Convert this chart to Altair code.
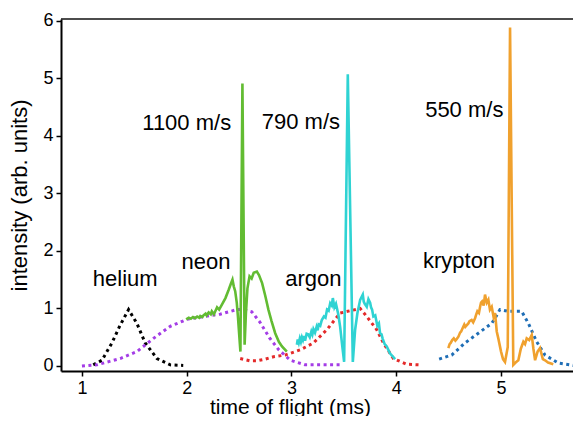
import altair as alt
import pandas as pd

# ---------------- data ----------------
he_t = [1.108, 1.191, 1.286, 1.365, 1.445, 1.525, 1.604, 1.716, 1.843, 1.967]
he_v = [0.02, 0.10, 0.40, 0.71, 0.98, 0.74, 0.40, 0.13, 0.02, 0.01]

ne_fit_t = [1.0, 1.143, 1.365, 1.525, 1.683, 1.843, 2.002, 2.160, 2.319, 2.479, 2.542,
            2.622, 2.70, 2.79, 2.88, 2.99, 3.13, 3.30, 3.481]
ne_fit_v = [0.0, 0.02, 0.13, 0.25, 0.48, 0.69, 0.81, 0.86, 0.90, 0.98, 0.98,
            0.94, 0.76, 0.49, 0.28, 0.10, 0.02, 0.02, 0.02]

ne_t = [1.995, 2.02, 2.04, 2.06, 2.08, 2.10, 2.12, 2.13, 2.15, 2.16, 2.18, 2.19, 2.21,
        2.23, 2.24, 2.26, 2.29, 2.31, 2.34,
        2.37, 2.40, 2.42, 2.437, 2.45, 2.463, 2.478, 2.489, 2.505, 2.513, 2.532, 2.553,
        2.565, 2.58, 2.60, 2.62, 2.64, 2.67, 2.69, 2.72, 2.75, 2.78, 2.81, 2.845, 2.88,
        2.91, 2.956]
ne_v = [0.81, 0.84, 0.82, 0.85, 0.83, 0.86, 0.84, 0.87, 0.85, 0.88, 0.91, 0.88, 0.93,
        0.90, 0.95, 0.90, 1.02, 0.98, 1.08,
        1.18, 1.32, 1.42, 1.50, 1.38, 1.30, 1.10, 0.86, 0.45, 0.25, 4.91, 0.37,
        0.90, 1.35, 1.56, 1.52, 1.62, 1.64, 1.58, 1.44, 1.22, 0.98, 0.78, 0.57, 0.42,
        0.34, 0.25]

ar_fit_t = [2.511, 2.60, 2.67, 2.75, 2.828, 2.94, 3.083, 3.21, 3.338, 3.465, 3.56,
            3.656, 3.719, 3.815, 3.878, 3.973, 4.101, 4.228]
ar_fit_v = [0.13, 0.09, 0.09, 0.12, 0.16, 0.19, 0.28, 0.40, 0.63, 0.92, 0.96,
            1.00, 0.86, 0.63, 0.40, 0.13, 0.03, 0.02]

ar_t = [3.052, 3.06, 3.07, 3.08, 3.09, 3.10, 3.11, 3.12, 3.13, 3.145, 3.16, 3.175, 3.19,
        3.20, 3.21, 3.225, 3.24, 3.25, 3.26, 3.275, 3.29, 3.31, 3.325, 3.34,
        3.355, 3.37, 3.385, 3.395, 3.41, 3.425, 3.448, 3.465, 3.485, 3.503, 3.538, 3.586,
        3.608, 3.63, 3.656, 3.681, 3.69, 3.70, 3.719, 3.735, 3.751, 3.76, 3.77, 3.782,
        3.80, 3.82, 3.835, 3.846, 3.86, 3.87, 3.89, 3.91, 3.925, 3.94, 3.96, 3.99]
ar_v = [0.37, 0.46, 0.40, 0.48, 0.42, 0.50, 0.45, 0.52, 0.44, 0.56, 0.55, 0.50, 0.60,
        0.55, 0.64, 0.58, 0.68, 0.62, 0.72, 0.70, 0.80, 0.86, 0.84, 0.98,
        0.96, 1.09, 1.05, 1.18, 1.02, 1.08, 0.89, 0.68, 0.35, 0.07, 5.07, 0.07,
        0.63, 0.92, 1.15, 1.24, 1.12, 1.08, 1.03, 1.16, 1.10, 1.02, 0.98, 0.86,
        0.88, 0.70, 0.74, 0.57, 0.55, 0.48, 0.38, 0.34, 0.28, 0.22, 0.18, 0.12]

kr_fit_t = [4.41, 4.53, 4.657, 4.784, 4.912, 4.944, 4.99, 5.071, 5.198, 5.262, 5.342,
            5.421, 5.548, 5.691]
kr_fit_v = [0.12, 0.19, 0.40, 0.57, 0.74, 0.83, 0.98, 0.95, 0.95, 0.74, 0.42,
            0.19, 0.05, 0.01]

kr_t = [4.498, 4.51, 4.52, 4.535, 4.55, 4.565, 4.575, 4.594, 4.61, 4.62, 4.635, 4.65,
        4.66, 4.67, 4.689, 4.70, 4.72, 4.735, 4.753, 4.765, 4.775,
        4.79, 4.801, 4.81, 4.82, 4.835, 4.848, 4.865, 4.880, 4.895, 4.912, 4.93, 4.944,
        4.96, 4.975, 5.001, 5.02, 5.039, 5.065, 5.087, 5.118, 5.14, 5.166, 5.19, 5.214,
        5.23, 5.246, 5.27, 5.294, 5.31, 5.326, 5.35, 5.373, 5.40, 5.421, 5.45, 5.50]
kr_v = [0.31, 0.38, 0.40, 0.45, 0.48, 0.44, 0.46, 0.51, 0.58, 0.60, 0.66, 0.72,
        0.68, 0.70, 0.74, 0.78, 0.80, 0.76, 0.83, 0.90, 0.95,
        0.92, 1.03, 1.10, 1.12, 1.05, 1.24, 1.10, 1.15, 0.98, 1.03, 0.85, 0.92,
        0.60, 0.48, 0.25, 0.12, 0.07, 0.33, 5.88, 0.02, 0.06, 0.10, 0.30, 0.42,
        0.38, 0.48, 0.45, 0.54, 0.30, 0.10, 0.25, 0.31, 0.12, 0.10, 0.06, 0.03]

label_text = ["helium", "neon", "argon", "krypton", "1100 m/s", "790 m/s", "550 m/s"]
label_t = [1.413, 2.185, 3.21, 4.60, 2.00, 3.09, 4.65]
label_v = [1.39, 1.69, 1.39, 1.70, 4.10, 4.11, 4.32]

# ---------------- chart ----------------
W, H = 512, 352
FONT = "Liberation Sans"

xenc = alt.X("t:Q", scale=alt.Scale(domain=[0.80, 5.688], nice=False, zero=False),
             axis=alt.Axis(values=[1, 2, 3, 4, 5], format="d", title="time of flight (ms)",
                           labelPadding=3, titleX=229, titleY=42, titleAlign="center",
                           titleBaseline="alphabetic", titleFontSize=21))
yenc = alt.Y("v:Q", scale=alt.Scale(domain=[-0.087, 6.03], nice=False, zero=False),
             axis=alt.Axis(values=[0, 1, 2, 3, 4, 5, 6], format="d",
                           title="intensity (arb. units)", labelPadding=3,
                           titleX=-42, titleY=H / 2, titleAngle=270,
                           titleAlign="center", titleBaseline="middle"))

series = [
    (he_t, he_v, "#000000", True),
    (ne_fit_t, ne_fit_v, "#a43de6", True),
    (ar_fit_t, ar_fit_v, "#e42a2a", True),
    (kr_fit_t, kr_fit_v, "#1f6eb6", True),
    (ne_t, ne_v, "#62bc32", False),
    (ar_t, ar_v, "#2fd3d3", False),
    (kr_t, kr_v, "#f0a12e", False),
]

layers = []
for t, v, color, dotted in series:
    df = pd.DataFrame({"t": t, "v": v, "i": list(range(len(t)))})
    if dotted:
        mk = alt.Chart(df).mark_line(color=color, strokeWidth=3, strokeDash=[3, 3.5],
                                     clip=True)
    else:
        mk = alt.Chart(df).mark_line(color=color, strokeWidth=2.6, clip=True)
    layers.append(mk.encode(x=xenc, y=yenc, order="i:Q"))

lab_df = pd.DataFrame({"t": label_t, "v": label_v, "txt": label_text})
labels = alt.Chart(lab_df).mark_text(fontSize=22, font=FONT, color="black",
                                     align="center", baseline="alphabetic").encode(
    x=xenc, y=yenc, text="txt:N")
layers.append(labels)

top = alt.Chart(pd.DataFrame({"a": [0]})).mark_rule(color="#111", strokeWidth=1.5).encode(
    x=alt.value(0), x2=alt.value(W), y=alt.value(0))
layers.append(top)

chart = alt.layer(*layers).properties(
    width=W, height=H,
    autosize=alt.AutoSizeParams(type="none"),
    padding={"left": 53, "top": 11, "right": 0, "bottom": 45},
).configure_view(stroke=None).configure_axis(
    grid=False, domainColor="black", domainWidth=2, tickColor="black", tickWidth=1.5,
    tickSize=5, labelFontSize=18, titleFontSize=22, labelColor="black", titleColor="black",
    labelFont=FONT, titleFont=FONT, titleFontWeight="normal",
)

chart.save("out.html", embed_options={"renderer": "svg", "actions": False})
